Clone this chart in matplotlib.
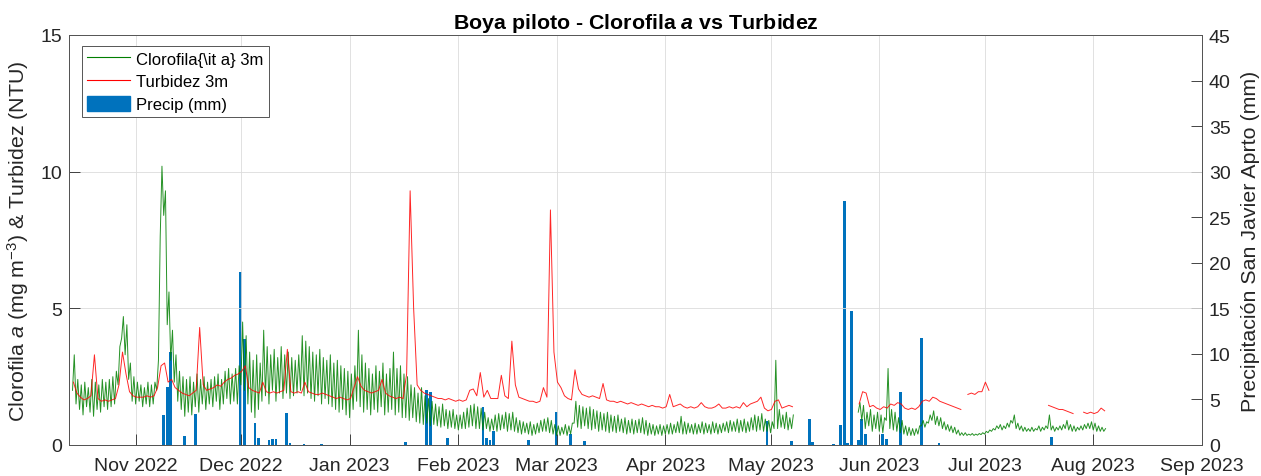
import numpy as np
import pandas as pd
import matplotlib
matplotlib.use('Agg')
import matplotlib.pyplot as plt
import matplotlib.dates as mdates
from matplotlib.lines import Line2D
from matplotlib.patches import Patch

plt.rcParams['font.family'] = ['Liberation Sans', 'DejaVu Sans']
plt.rcParams['mathtext.fontset'] = 'custom'
plt.rcParams['mathtext.rm'] = 'Liberation Sans'
plt.rcParams['mathtext.it'] = 'Liberation Sans:italic'
plt.rcParams['mathtext.bf'] = 'Liberation Sans:bold'
try:
    plt.rcParams['mathtext.bfit'] = 'Liberation Sans:bold:italic'
except KeyError:
    pass

N = None
start = '2022-10-14'   # first day of buoy record, one value per day

# chlorophyll a daily highs / lows (mg m-3), rows of 10 days
chl_hi = [
    3.3, 2.4, 2.2, 2.3, 2.1, 2.4, 2.3, 2.2, 2.4, 2.3,      # Oct 14
    2.4, 2.5, 2.7, 3.6, 4.7, 4.4, 3.0, 2.5, 2.3, 2.2,      # Oct 24
    2.1, 2.3, 2.2, 2.3, 3.1, 10.2, 9.3, 5.6, 4.2, 3.3,     # Nov 3
    2.7, 2.5, 2.4, 2.5, 2.3, 2.6, 2.4, 2.5, 2.3, 2.4,      # Nov 13
    2.5, 2.6, 2.4, 2.7, 2.8, 2.6, 2.8, 2.9, 4.5, 4.0,      # Nov 23
    3.4, 3.1, 3.3, 3.0, 4.2, 3.6, 3.3, 3.5, 3.2, 3.6,      # Dec 3
    3.3, 3.4, 3.2, 3.1, 3.3, 4.0, 3.8, 3.6, 3.4, 3.3,      # Dec 13
    3.5, 3.2, 3.1, 3.3, 3.0, 3.1, 2.9, 2.8, 2.7, 2.6,      # Dec 23
    2.9, 4.2, 3.3, 3.0, 2.8, 2.6, 2.9, 2.7, 3.0, 2.6,      # Jan 2
    2.8, 3.4, 2.8, 2.9, 2.6, 2.5, 2.2, 2.1, 1.9, 2.1,      # Jan 12
    1.8, 1.7, 1.6, 1.5, 1.4, 1.5, 1.3, 1.25, 1.3, 1.1,     # Jan 22
    1.1, 1.2, 1.35, 1.45, 1.5, 1.4, 1.35, 1.2, 1.0, 0.95,  # Feb 1
    1.1, 1.15, 1.1, 1.2, 1.15, 1.2, 1.0, 0.9, 0.85, 0.8,   # Feb 11
    0.85, 0.75, 0.8, 0.9, 0.95, 1.0, 0.9, 0.75, 0.7, 0.65, # Feb 21
    0.75, 0.7, 0.8, 1.6, 1.45, 1.4, 1.35, 1.4, 1.3, 1.25,  # Mar 3
    1.2, 1.15, 1.2, 1.1, 1.05, 1.1, 0.95, 1.0, 0.9, 0.95,  # Mar 13
    0.9, 0.95, 1.0, 0.9, 0.8, 0.75, 0.7, 0.75, 0.7, 0.75,  # Mar 23
    0.8, 0.75, 0.85, 1.05, 0.85, 0.8, 0.75, 0.8, 0.75, 0.85,  # Apr 2
    0.8, 0.75, 0.85, 0.8, 0.75, 0.8, 0.85, 0.9, 0.85, 0.95,   # Apr 12
    0.9, 0.95, 0.85, 1.0, 1.1, 1.05, 1.15, 0.95, 0.9, 0.85,   # Apr 22
    3.1, 1.3, 1.1, 1.2, 1.0, 1.1, N, N, N, N,                # May 2
    N, N, N, N, N, N, N, N, N, N,                            # May 12
    N, N, N, N, 1.55, 1.45, 1.2, 1.3, 1.1, 1.2,              # May 22
    1.1, 1.0, 2.8, 1.3, 1.2, 1.0, 0.9, 0.7, 0.65, 0.6,       # Jun 1
    0.6, 0.7, 0.9, 0.85, 1.1, 1.25, 1.05, 1.0, 0.85, 0.75,   # Jun 11
    0.7, 0.65, 0.55, 0.45, 0.45, 0.4, 0.42, 0.4, 0.42, 0.45, # Jun 21
    0.5, 0.55, 0.6, 0.7, 0.75, 0.7, 0.8, 0.9, 1.1, 0.8,      # Jul 1
    0.7, 0.65, 0.6, 0.65, 0.6, 0.7, 0.65, 0.7, 1.1, 0.7,     # Jul 11
    0.65, 0.7, 0.75, 0.9, 0.75, 0.7, 0.65, 0.7, 0.75, 0.8,   # Jul 21
    0.85, 0.8, 0.7, 0.65, 0.6,                               # Jul 31
]
chl_lo = [
    2.0, 1.5, 1.3, 1.1, 1.4, 1.2, 1.05, 1.3, 1.2, 1.4,
    1.3, 1.4, 1.5, 2.2, 3.9, 3.3, 2.4, 1.6, 1.5, 1.6,
    1.4, 1.5, 1.4, 1.5, 2.0, 7.6, 8.4, 4.4, 3.1, 2.3,
    1.6, 1.3, 1.05, 1.2, 1.1, 1.4, 1.2, 1.5, 1.3, 1.5,
    1.4, 1.6, 1.3, 1.5, 1.7, 1.5, 1.6, 1.5, 2.2, 2.0,
    1.5, 1.2, 1.0, 1.3, 1.6, 1.8, 1.5, 2.0, 1.6, 1.9,
    1.7, 1.9, 1.7, 1.8, 1.9, 2.0, 1.8, 1.9, 1.7, 1.6,
    1.8, 1.5, 1.7, 1.5, 1.4, 1.3, 1.2, 1.3, 1.1, 1.0,
    1.3, 1.6, 1.4, 1.2, 1.3, 1.1, 1.3, 1.2, 1.4, 1.1,
    1.2, 1.3, 1.1, 1.2, 1.0, 1.0, 0.9, 1.0, 0.85, 0.8,
    0.75, 0.8, 0.7, 0.75, 0.7, 0.65, 0.7, 0.6, 0.65, 0.6,
    0.55, 0.6, 0.6, 0.65, 0.7, 0.6, 0.6, 0.55, 0.6, 0.5,
    0.55, 0.5, 0.55, 0.6, 0.5, 0.55, 0.5, 0.45, 0.4, 0.45,
    0.4, 0.35, 0.4, 0.45, 0.5, 0.5, 0.45, 0.4, 0.35, 0.35,
    0.4, 0.35, 0.4, 0.8, 0.65, 0.6, 0.7, 0.6, 0.55, 0.6,
    0.5, 0.55, 0.5, 0.45, 0.5, 0.45, 0.5, 0.45, 0.4, 0.45,
    0.4, 0.45, 0.45, 0.4, 0.35, 0.4, 0.35, 0.4, 0.35, 0.4,
    0.4, 0.4, 0.45, 0.45, 0.4, 0.4, 0.45, 0.4, 0.4, 0.45,
    0.4, 0.45, 0.4, 0.45, 0.4, 0.45, 0.5, 0.45, 0.5, 0.5,
    0.45, 0.5, 0.45, 0.5, 0.55, 0.5, 0.55, 0.5, 0.5, 0.45,
    0.6, 0.6, 0.65, 0.6, 0.55, 0.6, N, N, N, N,
    N, N, N, N, N, N, N, N, N, N,
    N, N, N, N, 1.2, 0.9, 0.6, 0.7, 0.5, 0.6,
    0.5, 0.45, 0.9, 0.6, 0.55, 0.5, 0.45, 0.4, 0.35, 0.35,
    0.35, 0.4, 0.7, 0.65, 0.8, 0.9, 0.75, 0.7, 0.6, 0.55,
    0.5, 0.45, 0.4, 0.35, 0.35, 0.35, 0.36, 0.35, 0.36, 0.38,
    0.4, 0.45, 0.5, 0.55, 0.6, 0.55, 0.6, 0.65, 0.8, 0.6,
    0.55, 0.5, 0.5, 0.5, 0.5, 0.55, 0.5, 0.55, 0.6, 0.55,
    0.5, 0.55, 0.55, 0.6, 0.55, 0.5, 0.5, 0.55, 0.55, 0.6,
    0.6, 0.55, 0.5, 0.5, 0.5,
]
# turbidity 3 m, daily (NTU)
turb = [
    2.3, 1.9, 1.75, 1.65, 1.7, 1.8, 3.3, 1.7, 1.6, 1.65,
    1.6, 1.65, 1.7, 2.2, 3.4, 2.6, 1.95, 1.8, 1.75, 1.75,
    1.75, 1.8, 1.75, 1.8, 2.1, 2.9, 3.0, 2.3, 2.4, 2.1,
    2.0, 1.9, 1.85, 1.8, 1.9, 2.0, 4.3, 2.2, 2.0, 2.05,
    2.1, 2.2, 2.15, 2.3, 2.4, 2.45, 2.55, 2.6, 2.7, 2.9,
    2.1, 2.0, 1.95, 1.9, 2.3, 1.95, 1.9, 1.95, 1.9, 1.95,
    2.0, 3.5, 1.95, 1.9, 1.95, 1.9, 2.3, 1.95, 1.9, 1.85,
    1.85, 1.9, 1.85, 1.8, 1.75, 1.7, 1.75, 1.7, 1.65, 1.7,
    2.1, 2.5, 2.15, 2.0, 1.95, 1.9, 1.95, 2.0, 2.4, 1.9,
    1.8, 1.75, 1.7, 1.75, 1.7, 2.6, 9.3, 5.0, 2.2, 2.0,
    1.9, 1.85, 1.8, 1.75, 1.7, 1.7, 1.65, 1.7, 1.65, 1.6,
    1.65, 1.6, 1.65, 2.0, 2.05, 1.8, 2.65, 1.75, 2.0, 1.7,
    1.7, 1.7, 2.55, 1.8, 1.7, 3.8, 2.2, 1.75, 1.7, 1.65,
    1.6, 1.6, 1.55, 1.6, 2.1, 1.75, 8.6, 3.4, 2.3, 2.1,
    1.8, 1.7, 1.65, 2.75, 2.05, 1.85, 1.8, 1.75, 1.8, 1.75,
    1.7, 2.25, 1.65, 1.6, 1.6, 1.55, 1.6, 1.55, 1.5, 1.55,
    1.5, 1.45, 1.5, 1.45, 1.4, 1.45, 1.4, 1.4, 1.35, 1.4,
    1.85, 1.4, 1.45, 1.5, 1.4, 1.35, 1.4, 1.35, 1.4, 1.55,
    1.4, 1.35, 1.35, 1.4, 1.5, 1.35, 1.35, 1.4, 1.35, 1.4,
    1.35, 1.55, 1.4, 1.5, 1.55, 1.6, 1.75, 1.35, 1.25, 1.3,
    1.6, 1.65, 1.35, 1.4, 1.45, 1.4, N, N, N, N,
    N, N, N, N, N, N, N, N, N, N,
    N, N, N, N, 1.5, 1.95, 1.9, 1.4, 1.45, 1.35,
    1.3, 1.4, 1.35, 1.5, 1.45, 1.55, 1.5, 1.35, 1.3, 1.35,
    1.3, 1.4, 1.6, 1.65, 1.6, 1.75, 1.7, 1.6, 1.55, 1.5,
    1.45, 1.4, 1.35, 1.3, N, 1.85, 1.9, 1.85, 1.95, 1.95,
    2.3, 2.0, N, N, N, N, N, N, N, N,
    N, N, N, N, N, N, N, N, 1.45, 1.4,
    1.35, 1.3, 1.3, 1.25, 1.2, 1.15, N, N, 1.2, 1.15,
    1.2, 1.15, 1.2, 1.35, 1.25,
]

# daily precipitation San Javier airport (mm), rain days only
precip_dates = ['2022-11-09', '2022-11-10', '2022-11-11', '2022-11-15', '2022-11-18',
                '2022-12-01', '2022-12-02', '2022-12-05', '2022-12-06', '2022-12-09',
                '2022-12-10', '2022-12-11', '2022-12-14', '2022-12-15', '2022-12-19',
                '2022-12-24', '2023-01-17', '2023-01-23', '2023-01-24', '2023-01-29',
                '2023-02-08', '2023-02-09', '2023-02-10', '2023-02-11', '2023-02-21',
                '2023-03-01', '2023-03-05', '2023-03-09', '2023-04-30', '2023-05-07',
                '2023-05-12', '2023-05-13', '2023-05-19', '2023-05-21', '2023-05-22',
                '2023-05-23', '2023-05-24', '2023-05-26', '2023-05-27', '2023-05-28',
                '2023-06-02', '2023-06-03', '2023-06-07', '2023-06-13', '2023-06-18',
                '2023-07-20']
precip_mm = [3.3, 6.4, 10.2, 1.0, 3.4,
             19.0, 11.6, 2.4, 0.8, 0.6,
             0.7, 0.7, 3.5, 0.2, 0.1,
             0.1, 0.3, 6.0, 5.8, 0.8,
             4.2, 0.8, 0.5, 1.5, 0.55,
             3.6, 1.2, 0.4, 2.6, 0.45,
             2.8, 0.35, 0.1, 2.2, 26.8,
             0.2, 14.7, 0.5, 2.8, 1.2,
             1.25, 0.7, 5.85, 11.7, 0.2,
             0.84]

# interleave lows (midnight) and highs (noon) for the chlorophyll line
days = pd.date_range(start, periods=len(chl_hi), freq='D')
t_chl = np.empty(2 * len(days), dtype='datetime64[ns]')
t_chl[0::2] = days.values
t_chl[1::2] = (days + pd.Timedelta(hours=12)).values
y_chl = np.empty(2 * len(days))
y_chl[0::2] = np.array(chl_lo, dtype=float)
y_chl[1::2] = np.array(chl_hi, dtype=float)

t_turb = pd.date_range(start, periods=len(turb), freq='D') + pd.Timedelta(hours=6)
y_turb = np.array(turb, dtype=float)

axc = '#262626'
fig = plt.figure(figsize=(12.61, 4.77), dpi=100)
ax = fig.add_axes([69 / 1261, 31 / 477, 1133 / 1261, 410 / 477])
ax2 = ax.twinx()

ax2.bar(pd.to_datetime(precip_dates), precip_mm, width=0.8, color='#0072BD', zorder=1)
ax.plot(t_chl, y_chl, color='#007F00', lw=0.7, alpha=0.85, zorder=3)
ax.plot(t_turb, y_turb, color='#FF0000', lw=0.7, alpha=0.85, zorder=3)

ax.set_zorder(ax2.get_zorder() + 1)
ax.patch.set_visible(False)

ax.set_xlim(pd.Timestamp('2022-10-13'), pd.Timestamp('2023-09-01'))
ax.set_ylim(0, 15)
ax2.set_ylim(0, 45)
ax.set_yticks([0, 5, 10, 15])
ax2.set_yticks(range(0, 46, 5))
ax.set_xticks(pd.date_range('2022-11-01', '2023-09-01', freq='MS'))
ax.xaxis.set_major_formatter(mdates.DateFormatter('%b %Y'))

ax.grid(True, color='#dcdcdc', lw=0.6)
ax.set_axisbelow(True)
for a in (ax, ax2):
    a.tick_params(direction='in', length=8, width=0.6, labelsize=14, colors=axc, pad=5)
    for s in a.spines.values():
        s.set_color('#555555')
        s.set_linewidth(0.7)
ax.tick_params(axis='x', pad=9)

ax.set_ylabel('Clorofila $a$ (mg m$^{-3}$) & Turbidez (NTU)', fontsize=15.4, color=axc, labelpad=7)
ax2.set_ylabel('Precipitación San Javier Aprto (mm)', fontsize=15.4, color=axc, labelpad=7)
ax.set_title(r'Boya piloto - Clorofila $\mathbfit{a}$ vs Turbidez', fontsize=15.4,
             fontweight='bold', color='black', pad=5)

handles = [Line2D([], [], color='#007F00', lw=0.8),
           Line2D([], [], color='#FF0000', lw=0.8),
           Patch(facecolor='#0072BD', edgecolor='#0072BD')]
labels = ['Clorofila{\\it a} 3m', 'Turbidez 3m', 'Precip (mm)']
leg = ax.legend(handles, labels, loc='upper left', bbox_to_anchor=(13 / 1133, 1 - 11 / 410),
                borderaxespad=0, fontsize=12, frameon=True, fancybox=False,
                framealpha=1, edgecolor='#555555', handlelength=2.6, handleheight=0.95,
                handletextpad=0.35, borderpad=0.3, labelspacing=0.4)
leg.get_frame().set_linewidth(0.7)

fig.savefig('out.png', dpi=100)
